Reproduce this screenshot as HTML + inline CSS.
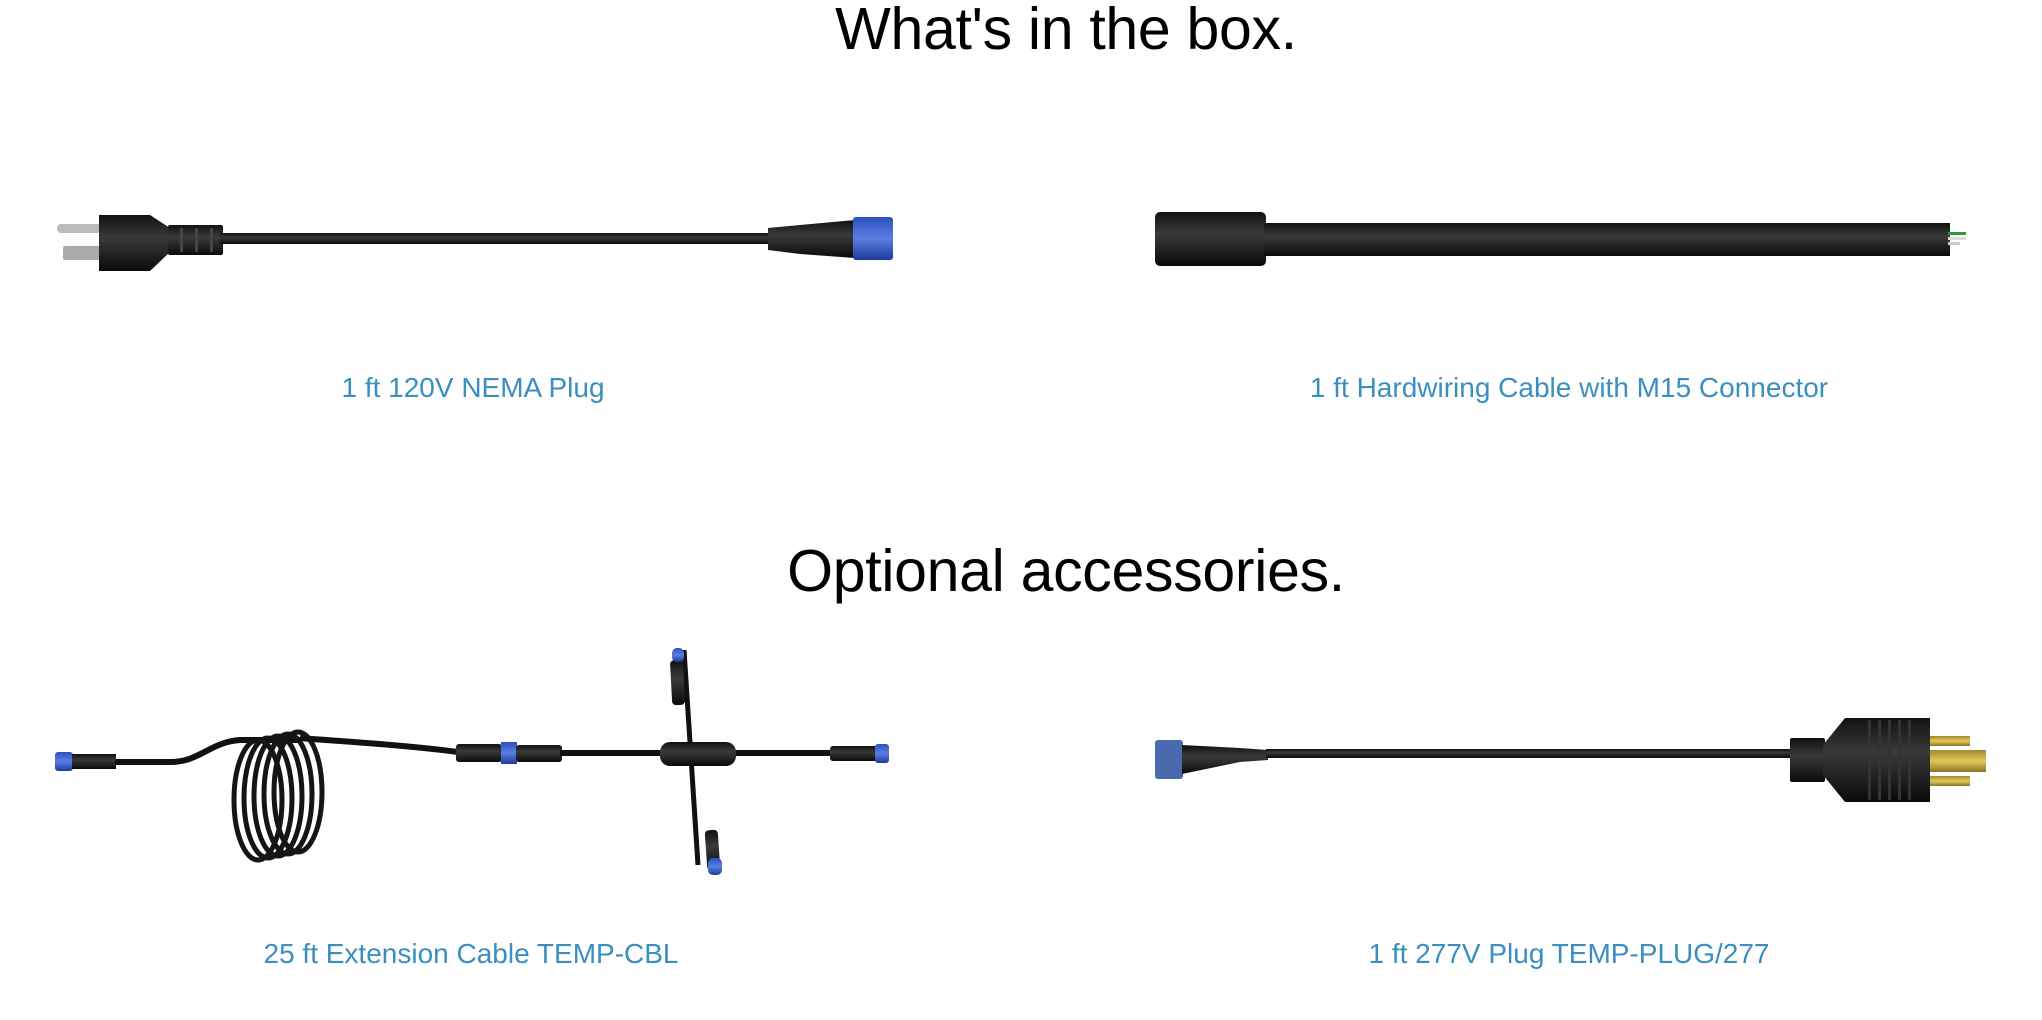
<!DOCTYPE html>
<html><head><meta charset="utf-8"><style>
html,body{margin:0;padding:0;background:#fff;}
body{width:2042px;height:1020px;position:relative;overflow:hidden;font-family:"Liberation Sans",sans-serif;}
.t{position:absolute;left:0;width:2132px;text-align:center;color:#000;font-size:59px;letter-spacing:-0.3px;line-height:1;}
.l{position:absolute;color:#3a8fc0;font-size:28px;line-height:1;white-space:nowrap;transform:translateX(-50%);}
svg{position:absolute;left:0;top:0;}
</style></head><body>
<svg width="2042" height="1020" viewBox="0 0 2042 1020">
<defs>
<linearGradient id="bk" x1="0" y1="0" x2="0" y2="1"><stop offset="0" stop-color="#111"/><stop offset=".4" stop-color="#3a3a3a"/><stop offset="1" stop-color="#0a0a0a"/></linearGradient>
<linearGradient id="bl" x1="0" y1="0" x2="0" y2="1"><stop offset="0" stop-color="#2b4fc0"/><stop offset=".5" stop-color="#5a7fe0"/><stop offset="1" stop-color="#1f3a9a"/></linearGradient>
<linearGradient id="au" x1="0" y1="0" x2="0" y2="1"><stop offset="0" stop-color="#a08a30"/><stop offset=".5" stop-color="#e2c85a"/><stop offset="1" stop-color="#8a7428"/></linearGradient>
</defs>
<!-- plug 1 -->
<rect x="57" y="224" width="44" height="9" rx="4" fill="#bbb"/>
<rect x="63" y="246" width="38" height="14" rx="2" fill="#aaa"/>
<path d="M99 215 L150 215 L170 228 L170 252 L150 271 L99 271 Z" fill="url(#bk)"/>
<rect x="168" y="225" width="55" height="30" rx="2" fill="url(#bk)"/>
<g fill="#444"><rect x="180" y="228" width="3" height="24"/><rect x="195" y="228" width="3" height="24"/><rect x="210" y="228" width="3" height="24"/></g>
<rect x="220" y="233" width="550" height="11" fill="url(#bk)"/>
<path d="M768 228 L800 225 L855 220 L855 258 L800 254 L768 250 Z" fill="url(#bk)"/>
<rect x="853" y="217" width="40" height="43" rx="3" fill="url(#bl)"/>
<!-- hardwire -->
<rect x="1155" y="212" width="111" height="54" rx="5" fill="url(#bk)"/>
<rect x="1264" y="223" width="686" height="33" fill="url(#bk)"/>
<rect x="1948" y="232" width="18" height="3" fill="#2e9a3a"/>
<rect x="1948" y="237" width="18" height="3" fill="#ddd"/>
<rect x="1948" y="242" width="12" height="3" fill="#ccc"/>
<!-- extension -->
<rect x="55" y="752" width="18" height="19" rx="3" fill="url(#bl)"/>
<rect x="72" y="754" width="44" height="15" fill="url(#bk)"/>
<path d="M115 762 L170 762 C200 762 210 742 240 740 L300 740" stroke="#111" stroke-width="6" fill="none"/>
<g stroke="#151515" stroke-width="5" fill="none">
<ellipse cx="258" cy="800" rx="24" ry="60"/><ellipse cx="268" cy="798" rx="24" ry="60"/><ellipse cx="278" cy="796" rx="24" ry="60"/><ellipse cx="288" cy="794" rx="24" ry="60"/><ellipse cx="298" cy="792" rx="24" ry="60"/></g>
<path d="M300 738 C320 740 400 744 458 752" stroke="#111" stroke-width="6" fill="none"/>
<rect x="456" y="744" width="46" height="18" rx="3" fill="url(#bk)"/>
<rect x="501" y="742" width="16" height="22" fill="url(#bl)"/>
<rect x="516" y="745" width="46" height="17" rx="3" fill="url(#bk)"/>
<rect x="560" y="750" width="270" height="6" fill="#111"/>
<path d="M684 650 L698 865" stroke="#111" stroke-width="5"/>
<rect x="660" y="742" width="76" height="24" rx="10" fill="url(#bk)"/>
<rect x="672" y="660" width="13" height="45" rx="4" fill="url(#bk)" transform="rotate(-3 678 700)"/>
<rect x="672" y="648" width="12" height="14" rx="5" fill="url(#bl)"/>
<rect x="706" y="830" width="13" height="40" rx="4" fill="url(#bk)" transform="rotate(-4 712 850)"/>
<rect x="708" y="858" width="14" height="17" rx="5" fill="url(#bl)"/>
<rect x="830" y="746" width="48" height="15" rx="3" fill="url(#bk)"/>
<rect x="875" y="744" width="14" height="19" rx="3" fill="url(#bl)"/>
<!-- 277 plug -->
<rect x="1155" y="740" width="28" height="39" rx="3" fill="#4a6ab0"/>
<path d="M1182 745 L1240 748 L1268 750 L1268 760 L1240 762 L1182 774 Z" fill="url(#bk)"/>
<rect x="1266" y="749" width="526" height="9" fill="url(#bk)"/>
<rect x="1790" y="738" width="35" height="44" rx="2" fill="url(#bk)"/>
<path d="M1823 745 L1845 718 L1930 718 L1930 802 L1845 802 L1823 775 Z" fill="url(#bk)"/>
<g fill="#333"><rect x="1868" y="720" width="3" height="80"/><rect x="1878" y="720" width="3" height="80"/><rect x="1888" y="720" width="3" height="80"/><rect x="1898" y="720" width="3" height="80"/><rect x="1908" y="720" width="3" height="80"/></g>
<rect x="1930" y="736" width="40" height="10" fill="url(#au)"/>
<rect x="1930" y="750" width="56" height="22" fill="url(#au)"/>
<rect x="1930" y="776" width="40" height="10" fill="url(#au)"/>
</svg>
<div class="t" style="top:0px;">What's in the box.</div>
<div class="t" style="top:542px;">Optional accessories.</div>
<div class="l" style="left:473px;top:374px;">1 ft 120V NEMA Plug</div>
<div class="l" style="left:1569px;top:374px;">1 ft Hardwiring Cable with M15 Connector</div>
<div class="l" style="left:471px;top:940px;">25 ft Extension Cable TEMP-CBL</div>
<div class="l" style="left:1569px;top:940px;">1 ft 277V Plug TEMP-PLUG/277</div>
</body></html>
